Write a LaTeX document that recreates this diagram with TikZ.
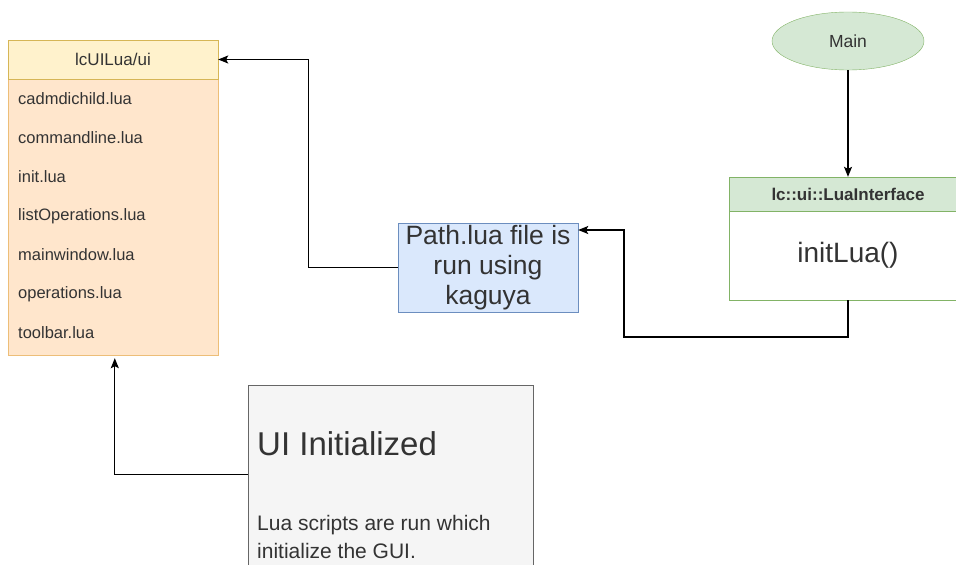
\documentclass[tikz,border=0pt]{standalone}
\usepackage{fontspec}
\setmainfont{Liberation Sans}
\usetikzlibrary{arrows.meta,shapes.geometric}

\definecolor{txt}{HTML}{333333}
\definecolor{yelfill}{HTML}{FFF2CC}
\definecolor{yeldraw}{HTML}{D6B656}
\definecolor{orfill}{HTML}{FFE6CC}
\definecolor{ordraw}{HTML}{EDBE78}
\definecolor{blfill}{HTML}{DAE8FC}
\definecolor{bldraw}{HTML}{6C8EBF}
\definecolor{grfill}{HTML}{D5E8D4}
\definecolor{grdraw}{HTML}{82B366}
\definecolor{gyfill}{HTML}{F5F5F5}
\definecolor{gydraw}{HTML}{666666}

\tikzset{
  box/.style={draw, rectangle, inner sep=0pt, text=txt},
  item/.style={anchor=west, inner sep=0pt, text=txt, font=\fontsize{16.5}{18}\selectfont},
  link/.style={-{Stealth[length=10pt,width=8pt,inset=2pt]}, line width=1.1pt}
}

\begin{document}
\begin{tikzpicture}[x=1pt,y=-1pt]
  \useasboundingbox (0,0) rectangle (956,565);

  % file list
  \node[box, fill=orfill, draw=ordraw, minimum width=210, minimum height=276] (body) at (113,217) {};
  \node[box, fill=yelfill, draw=yeldraw, minimum width=210, minimum height=39,
        font=\fontsize{17}{19}\selectfont] (lchead) at (113,59.5) {lcUILua/ui};
  \foreach \f [count=\i from 0] in {cadmdichild.lua, commandline.lua, init.lua,
      listOperations.lua, mainwindow.lua, operations.lua, toolbar.lua}
  {
      \node[item] (file\i) at (18, 99+39*\i) {\f};
  }

  \node[box, fill=blfill, draw=bldraw, minimum width=180, minimum height=89, align=center,
        font=\fontsize{26.5}{30}\selectfont] (path) at (488,267.5)
        {Path.lua file is\\run using\\kaguya};

  \node[draw=grdraw, fill=grfill, ellipse, minimum width=152, minimum height=58, inner sep=0pt,
        text=txt, font=\fontsize{17.5}{19}\selectfont] (main) at (848,41) {Main};

  \node[box, fill=grfill, draw=grdraw, minimum width=238, minimum height=34,
        font=\bfseries\fontsize{17}{19}\selectfont] (ifhead) at (848,194) {lc::ui::LuaInterface};
  \node[box, fill=white, draw=grdraw, minimum width=238, minimum height=89,
        font=\fontsize{28}{30}\selectfont] (ifbody) at (848,255.5) {initLua()};

  \node[box, fill=gyfill, draw=gydraw, minimum width=285, minimum height=195] (uibox) at (390.5,482.5) {};
  \node[item, font=\fontsize{33}{36}\selectfont] (uititle) at (257,444) {UI Initialized};
  \node[item, font=\fontsize{21}{28}\selectfont, align=left, anchor=north west] (uitext) at (257,515)
        {Lua scripts are run which\\initialize the GUI.};

  \draw[link] (main) -- (ifhead);
  \coordinate (k1) at (624,230);
  \draw[link] (ifbody.south) |- (624,337) -- (k1) -- (k1 -| path.east);
  \draw[link] (path.west) -| ([xshift=90pt]lchead.east) -- (lchead.east);
  \draw[link] ([yshift=-90pt]uibox.north west) -| ([xshift=107pt,yshift=-3pt]body.south west);

\end{tikzpicture}
\end{document}
